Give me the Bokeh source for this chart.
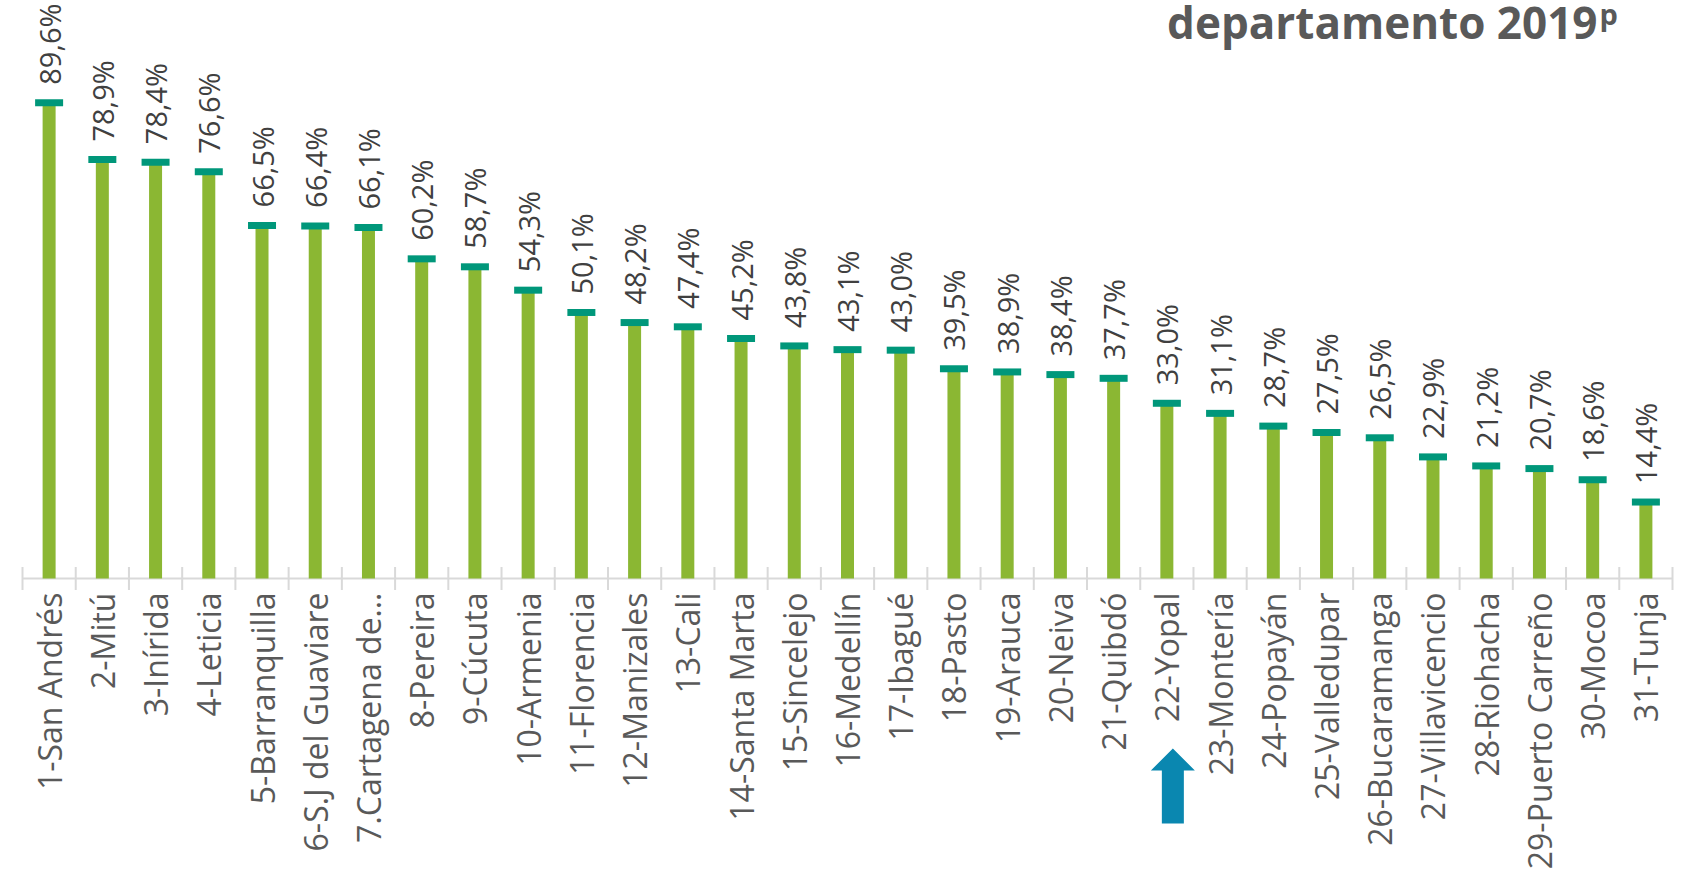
import math
from bokeh.plotting import figure
from bokeh.models import Range1d, ColumnDataSource
from bokeh.core.properties import value
from bokeh.embed import file_html
from bokeh.resources import INLINE

# ---------------- data ----------------
categories = [
    "1-San Andrés", "2-Mitú", "3-Inírida", "4-Leticia", "5-Barranquilla",
    "6-S.J del Guaviare", "7.Cartagena de…", "8-Pereira", "9-Cúcuta", "10-Armenia",
    "11-Florencia", "12-Manizales", "13-Cali", "14-Santa Marta", "15-Sincelejo",
    "16-Medellín", "17-Ibagué", "18-Pasto", "19-Arauca", "20-Neiva",
    "21-Quibdó", "22-Yopal", "23-Montería", "24-Popayán", "25-Valledupar",
    "26-Bucaramanga", "27-Villavicencio", "28-Riohacha", "29-Puerto Carreño", "30-Mocoa",
    "31-Tunja",
]
values = [
    89.6, 78.9, 78.4, 76.6, 66.5, 66.4, 66.1, 60.2, 58.7, 54.3,
    50.1, 48.2, 47.4, 45.2, 43.8, 43.1, 43.0, 39.5, 38.9, 38.4,
    37.7, 33.0, 31.1, 28.7, 27.5, 26.5, 22.9, 21.2, 20.7, 18.6,
    14.4,
]
highlight = "22-Yopal"
title_text = "departamento 2019"
title_sup = "p"

# ---------------- layout constants (figure pixels) ----------------
W, H = 1688, 874
N = len(categories)
AX_LEFT = 22            # figure x of first category boundary
AX_RIGHT = 1672         # figure x of last category boundary
BASE_Y = 578            # figure y of value 0
PX_X = (AX_RIGHT - AX_LEFT) / N
PX_Y = 5.31             # px per percentage point

x0 = 0.5 - AX_LEFT / PX_X
y_top = BASE_Y / PX_Y


def fx(px):
    return x0 + px / PX_X


def fy(py):
    return y_top - py / PX_Y


p = figure(width=W, height=H, output_backend="svg", toolbar_location=None,
           x_range=Range1d(x0, x0 + W / PX_X),
           y_range=Range1d(y_top - H / PX_Y, y_top),
           x_axis_type=None, y_axis_type=None)
p.min_border = 0
p.min_border_left = p.min_border_right = p.min_border_top = p.min_border_bottom = 0
p.outline_line_color = None
p.xgrid.visible = False
p.ygrid.visible = False
p.background_fill_color = "white"
p.border_fill_color = "white"

xs = list(range(1, N + 1))
labels = [f"{v:.1f}".replace(".", ",") + "%" for v in values]
src = ColumnDataSource(dict(x=xs, v=values, lab=labels, cat=categories))

# axis line + boundary ticks
p.segment(x0=[0.5], y0=[0], x1=[N + 0.5], y1=[0], line_color="#D9D9D9", line_width=2)
p.scatter(x=[i + 0.5 for i in range(N + 1)], y=[0] * (N + 1), marker="dash",
          size=23, angle=math.pi / 2, line_color="#D9D9D9", line_width=2)

# bars
p.vbar(x="x", top="v", bottom=0, width=13 / PX_X, source=src,
       fill_color="#8BB733", line_color=None)
# caps
p.rect(x="x", y="v", width=28 / PX_X, height=7, height_units="screen", source=src,
       fill_color="#00977A", line_color=None)

# value labels
p.text(x="x", y="v", text="lab", source=src, angle=math.pi / 2,
       y_offset=-18, x_offset=0, text_align="left", text_baseline="middle",
       text_font=value("Open Sans"), text_font_size="29px", text_color="#404040")

# category labels
p.text(x="x", y=0, text="cat", source=src, angle=math.pi / 2,
       y_offset=14, text_align="right", text_baseline="middle",
       text_font=value("Open Sans"), text_font_size="32px", text_color="#595959")

# title (cropped at the top as in the original)
p.text(x=[fx(1597)], y=[fy(21)], text=[title_text], text_align="right",
       text_baseline="alphabetic", text_font=value("Open Sans"),
       text_font_style="bold", text_font_size="44px", text_color="#595959")
p.text(x=[fx(1599)], y=[fy(13)], text=[title_sup], text_align="left",
       text_baseline="alphabetic", text_font=value("Open Sans"),
       text_font_style="bold", text_font_size="29px", text_color="#595959")

# highlight arrow under the selected category
hx = categories.index(highlight) + 1 + 6 / PX_X
tip, head_base, bottom = 748, 770, 823
hw, sw = 22 / PX_X, 11 / PX_X
p.patch(x=[hx, hx + hw, hx + sw, hx + sw, hx - sw, hx - sw, hx - hw],
        y=[fy(tip), fy(head_base), fy(head_base), fy(bottom), fy(bottom),
           fy(head_base), fy(head_base)],
        fill_color="#0A87B0", line_color=None)

open("out.html", "w").write(file_html(p, INLINE))
